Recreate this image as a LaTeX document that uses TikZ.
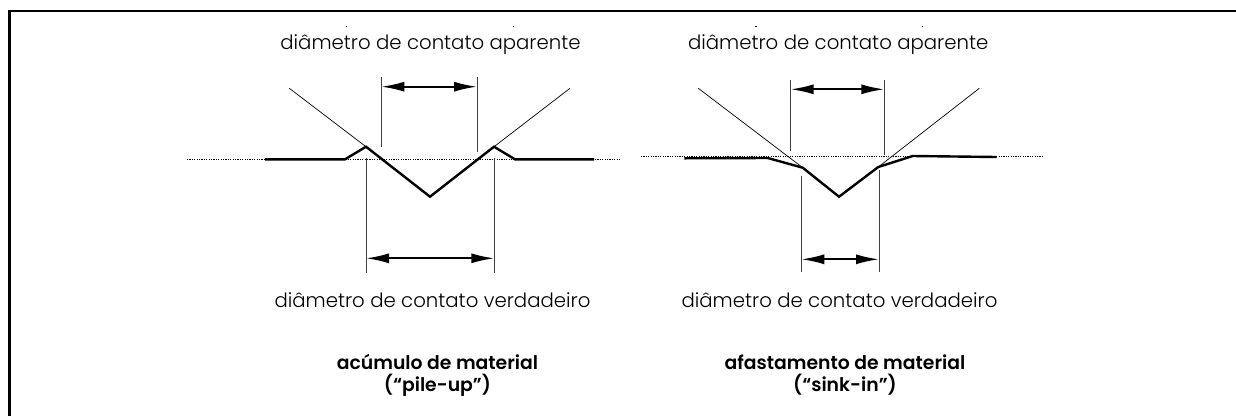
\documentclass[tikz,border=0pt]{standalone}
\usepackage{fontspec}
\setmainfont{Poppins Light}[BoldFont={Poppins SemiBold}]
\usetikzlibrary{arrows.meta}
\tikzset{
  thinline/.style={line width=0.7pt},
  extline/.style={line width=1pt,draw=black!75},
  profile/.style={line width=2.4pt,line join=miter},
  datum/.style={line width=1.1pt,dash pattern=on 1.2pt off 1.2pt},
  dim/.style={line width=1.9pt,{Latex[length=23pt,width=10pt]}-{Latex[length=23pt,width=10pt]}},
  lbl/.style={inner sep=0pt,anchor=base,font=\fontsize{19.7}{23}\selectfont},
  captext/.style={inner sep=0pt,align=center,font=\bfseries\fontsize{18.8}{22}\selectfont},
  ticka/.style={line width=0.8pt}
}
\begin{document}
\begin{tikzpicture}[x=1pt,y=-1pt]
\useasboundingbox (0,0) rectangle (1236,416);
\fill[white] (0,0) rectangle (1236,416);
\draw[line width=2.4pt] (9.5,416) -- (9.5,11) -- (1236,11);
% left figure
\coordinate (la) at (265,159.3); \coordinate (lb) at (345,159.3);
\coordinate (lc) at (366,146.7); \coordinate (ld) at (430,196.7);
\coordinate (le) at (494,146.7); \coordinate (lf) at (515,159.3);
\coordinate (lg) at (594,159.3);
\coordinate (li) at (289.3,88.3); \coordinate (lj) at (570,88.3);
\draw[datum] (187,159.3) -- (620,159.3);
\draw[thinline] (li) -- (lc) (lj) -- (le);
\draw[profile] (la) -- (lb) -- (lc) -- (ld) -- (le) -- (lf) -- (lg);
\coordinate (a1) at (381.3,77); \coordinate (a2) at (381.3,147);
\coordinate (a3) at (477,77); \coordinate (a4) at (477,152);
\coordinate (a5) at (381.3,86.7); \coordinate (a6) at (477,86.7);
\draw[extline] (a1) -- (a2) (a3) -- (a4);
\draw[dim] (a5) -- (a6);
\coordinate (t1) at (366,158); \coordinate (t2) at (366,273);
\coordinate (t3) at (494.3,158); \coordinate (t4) at (494.3,273);
\coordinate (t5) at (366,258.3); \coordinate (t6) at (494.3,258.3);
\draw[extline] (t1) -- (t2) (t3) -- (t4);
\draw[dim] (t5) -- (t6);
\node[lbl] (lt) at (430.5,49) {diâmetro de contato aparente};
\node[lbl] (lv) at (432.5,307.5) {diâmetro de contato verdadeiro};
\node[captext] (lk) at (437.5,375) {acúmulo de material\\(“pile-up”)};
\draw[ticka] (345.5,26.7) -- (347,26.7) (512.5,26.7) -- (514,26.7);
% right figure
\coordinate (ra) at (684.3,158.3); \coordinate (rb) at (767.7,158);
\coordinate (rc) at (802.7,167.7); \coordinate (rd) at (839,196.7);
\coordinate (re) at (878.3,167); \coordinate (rf) at (912.7,156);
\coordinate (rg) at (996.7,157);
\coordinate (ri) at (698.3,88.3); \coordinate (rj) at (979.3,88.3);
\draw[datum] (641,156.7) -- (1042,156.7);
\draw[thinline] (ri) -- (rc) (rj) -- (re);
\draw[profile] (ra) -- (rb) -- (rc) -- (rd) -- (re) -- (rf) -- (rg);
\coordinate (b1) at (790.7,80); \coordinate (b2) at (790.7,150.7);
\coordinate (b3) at (884.3,80); \coordinate (b4) at (884.3,155);
\coordinate (b5) at (790.7,89.3); \coordinate (b6) at (884.3,89.3);
\draw[extline] (b1) -- (b2) (b3) -- (b4);
\draw[dim] (b5) -- (b6);
\coordinate (v1) at (801.3,175.7); \coordinate (v2) at (801.3,271.7);
\coordinate (v3) at (879,170); \coordinate (v4) at (879,271.7);
\coordinate (v5) at (801.3,259.3); \coordinate (v6) at (879,259.3);
\draw[extline] (v1) -- (v2) (v3) -- (v4);
\draw[dim] (v5) -- (v6);
\node[lbl] (rt) at (838.2,49) {diâmetro de contato aparente};
\node[lbl] (rv) at (839.5,307.5) {diâmetro de contato verdadeiro};
\node[captext] (rk) at (845,375) {afastamento de material\\(“sink-in”)};
\draw[ticka] (755,26.7) -- (756.5,26.7) (921.5,26.7) -- (923,26.7);
\end{tikzpicture}
\end{document}
